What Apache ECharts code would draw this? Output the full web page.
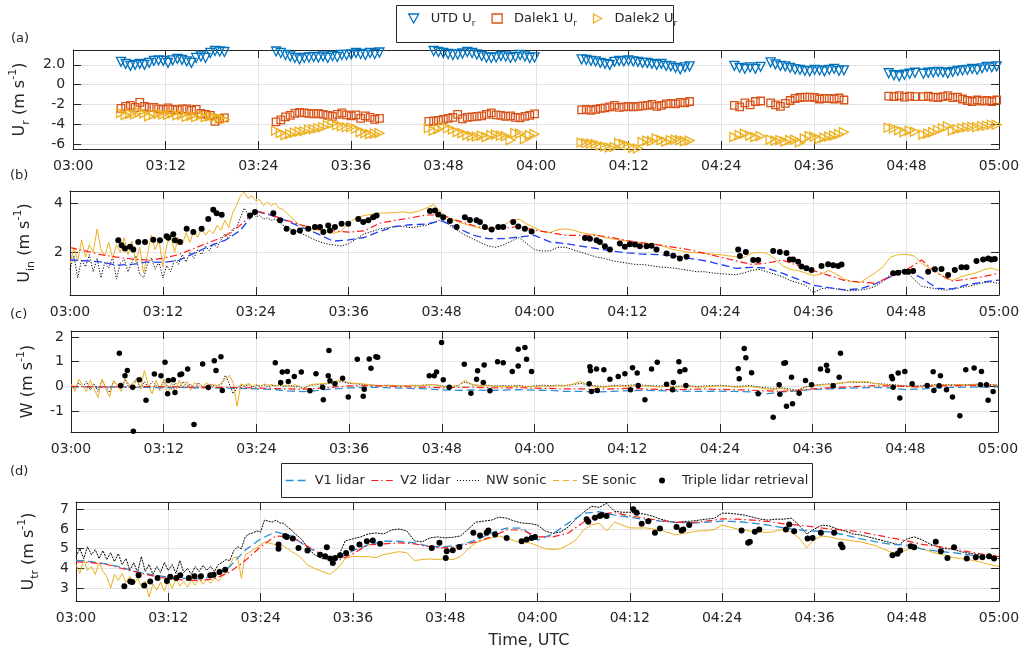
<!DOCTYPE html>
<html><head><meta charset="utf-8">
<script src="https://cdn.jsdelivr.net/npm/echarts@6/dist/echarts.min.js"></script>
<style>html,body{margin:0;padding:0;background:#fff}#c{width:1025px;height:654px}</style>
</head><body><div id="c"></div>
<script>
// ---------- Panel (a): radial velocities, scan clusters (minutes after 03:00) ----------
const aScans = [[6.2,19.6],[26.3,39.7],[46.1,59.8],[65.9,79.9],[85.7,89.1],[90.4,99.9],[105.7,109.1],[110.2,119.7]];
const aUtd = [
 [2.3,2.1,1.9,2.0,2.1,2.0,2.2,2.4,2.45,2.4,2.2,2.45,2.6,2.5,2.35,2.2,2.7,2.85,2.7,3.2,3.4,3.35,3.3],
 [3.35,3.2,3.0,2.85,2.7,2.55,2.7,2.75,2.8,2.75,2.85,2.7,2.9,2.8,3.0,3.0,3.05,3.2,3.1,3.0,3.2,3.1,3.25],
 [3.55,3.4,3.3,3.2,3.1,3.0,3.05,3.15,3.3,3.2,3.05,2.9,2.75,2.7,2.75,2.9,2.85,2.7,2.8,3.0,2.85,2.7,2.75],
 [2.55,2.5,2.4,2.35,2.2,2.1,2.0,2.3,2.4,2.35,2.45,2.35,2.3,2.2,2.2,2.1,2.0,2.1,1.9,1.85,1.7,1.55,1.75,1.85],
 [1.9,1.7,1.6,1.75,1.6,1.8],
 [2.25,2.05,1.9,1.85,1.7,1.55,1.5,1.4,1.35,1.5,1.45,1.35,1.5,1.6,1.4,1.45],
 [1.15,0.95,0.85,1.0,1.1,1.2],
 [1.1,1.2,1.25,1.3,1.25,1.15,1.3,1.4,1.45,1.5,1.6,1.5,1.65,1.8,1.75,1.85]
];
const aDalek1 = [
 [-2.4,-2.2,-2.1,-2.3,-1.8,-2.2,-2.3,-2.3,-2.45,-2.5,-2.35,-2.5,-2.55,-2.45,-2.45,-2.6,-2.5,-2.9,-3.0,-3.1,-3.7,-3.45,-3.35],
 [-3.75,-3.55,-3.25,-3.1,-2.9,-2.8,-2.85,-2.9,-2.95,-2.9,-3.0,-3.1,-3.2,-3.0,-2.85,-3.05,-3.15,-3.05,-3.4,-3.15,-3.3,-3.5,-3.4],
 [-3.7,-3.65,-3.6,-3.5,-3.4,-3.3,-3.0,-3.45,-3.3,-3.25,-3.2,-3.15,-3.0,-2.85,-3.05,-3.1,-3.2,-3.15,-3.3,-3.35,-3.2,-3.1,-2.95],
 [-2.55,-2.5,-2.6,-2.5,-2.4,-2.35,-2.25,-2.1,-2.3,-2.25,-2.2,-2.25,-2.2,-2.15,-2.1,-2.0,-2.2,-2.1,-1.95,-1.9,-1.95,-1.8,-1.85,-1.7],
 [-2.1,-2.25,-1.85,-2.05,-1.7,-1.65],
 [-1.85,-2.05,-2.2,-1.9,-1.6,-1.4,-1.3,-1.25,-1.25,-1.3,-1.45,-1.4,-1.4,-1.45,-1.35,-1.55],
 [-1.15,-1.2,-1.1,-1.25,-1.15,-1.2],
 [-1.2,-1.15,-1.25,-1.3,-1.2,-1.1,-1.3,-1.25,-1.45,-1.6,-1.7,-1.55,-1.65,-1.6,-1.7,-1.55]
];
const aDalek2 = [
 [-2.85,-3.05,-2.95,-3.0,-2.8,-2.9,-3.2,-3.0,-2.95,-3.0,-3.05,-2.9,-3.1,-3.05,-3.25,-3.15,-3.3,-3.1,-3.3,-3.2,-3.3,-3.4,-3.5],
 [-4.65,-4.9,-5.1,-5.0,-4.85,-4.75,-4.7,-4.55,-4.5,-4.4,-4.3,-4.1,-3.95,-4.1,-4.2,-4.3,-4.3,-4.45,-4.8,-4.9,-5.0,-4.95,-4.9],
 [-4.4,-4.65,-4.5,-4.2,-4.4,-4.55,-4.8,-4.9,-5.1,-5.2,-5.25,-5.15,-5.3,-5.1,-5.05,-5.15,-5.2,-5.6,-4.9,-4.95,-5.5,-5.1,-5.0],
 [-5.85,-5.9,-5.95,-6.0,-6.15,-6.25,-6.35,-6.3,-5.9,-6.0,-6.15,-6.4,-6.45,-5.8,-5.65,-5.7,-5.45,-5.6,-5.75,-5.6,-5.55,-5.6,-5.7,-5.65],
 [-5.3,-5.1,-4.95,-5.15,-5.3,-5.2],
 [-5.55,-5.65,-5.6,-5.75,-5.6,-5.55,-5.85,-5.45,-5.2,-5.25,-5.5,-5.35,-5.25,-5.15,-5.0,-4.8],
 [-4.35,-4.4,-4.6,-4.8,-4.65,-4.75],
 [-5.05,-4.95,-4.8,-4.6,-4.4,-4.2,-4.65,-4.5,-4.4,-4.3,-4.25,-4.3,-4.2,-4.15,-4.05,-4.05]
];

// ---------- tick labels ----------
const aTicks = [-6,-4,-2,0,2];
const aTickLabels = ['-6','-4','-2','0','2.0'];
const bTicks = [2,4];
const cTicks = [-1,0,1,2];
const dTicks = [3,4,5,6,7];

// ---------- lidar lines (every 2 min from 03:00) ----------
const bV1 = [1.68,1.65,1.6,1.47,1.5,1.6,1.58,1.66,1.95,2.25,2.48,2.89,3.68,3.5,3.28,3.0,2.75,2.45,2.5,2.6,2.85,3.05,3.12,3.15,3.28,3.0,2.7,2.55,2.55,2.62,2.69,2.42,2.35,2.25,2.15,2.05,1.97,1.92,1.9,1.85,1.75,1.65,1.5,1.34,1.38,1.35,1.14,0.9,0.65,0.55,0.46,0.5,0.7,1.0,1.27,0.95,0.52,0.5,0.68,0.78,0.86];
const bV2 = [2.19,2.05,1.9,1.8,1.72,1.68,1.75,1.9,2.15,2.4,2.65,3.1,3.7,3.52,3.3,3.1,2.95,2.88,2.82,2.87,3.18,3.3,3.4,3.52,3.52,3.3,3.1,2.95,2.97,3.05,2.9,2.8,2.69,2.69,2.69,2.6,2.47,2.38,2.3,2.2,2.1,1.95,1.8,1.65,1.5,1.55,1.68,1.45,1.25,1.05,0.85,0.78,0.73,1.0,1.27,1.68,1.14,0.82,0.9,1.0,1.14];
const cV1 = [-0.02,-0.02,-0.03,-0.02,-0.03,-0.04,-0.05,-0.04,-0.05,-0.06,-0.07,-0.08,-0.1,-0.12,-0.18,-0.21,-0.16,-0.1,-0.06,-0.04,-0.04,-0.06,-0.08,-0.1,-0.14,-0.16,-0.14,-0.16,-0.15,-0.13,-0.15,-0.16,-0.2,-0.2,-0.22,-0.2,-0.17,-0.16,-0.17,-0.18,-0.2,-0.2,-0.19,-0.2,-0.22,-0.3,-0.22,-0.18,-0.12,-0.1,-0.08,-0.06,-0.04,-0.06,-0.13,-0.1,-0.06,-0.04,-0.03,-0.03,-0.02];
const cV2 = [0,-0.01,-0.02,-0.02,-0.01,0,-0.02,-0.02,-0.03,-0.03,-0.04,-0.05,-0.06,-0.08,-0.1,-0.11,-0.08,-0.03,0.02,0.03,0.02,0,-0.02,-0.03,-0.05,-0.04,-0.03,-0.05,-0.06,-0.05,-0.07,-0.08,-0.1,-0.1,-0.12,-0.1,-0.08,-0.1,-0.12,-0.13,-0.12,-0.1,-0.12,-0.13,-0.15,-0.18,-0.2,-0.16,-0.1,-0.06,-0.03,0,0.03,0.02,0,-0.02,0.02,0.03,0.04,0.05,0.04];
const dV1 = [4.41,4.35,4.22,4.05,3.82,3.68,3.56,3.5,3.48,3.6,4.1,4.93,5.5,5.86,5.65,5.1,4.67,4.45,4.9,5.2,5.38,5.38,5.3,5.1,5.1,5.2,5.44,5.8,6.05,6.05,5.44,5.75,6.3,6.8,6.88,6.7,6.6,6.48,6.4,6.35,6.3,6.35,6.4,6.38,6.3,6.2,6.05,5.95,5.9,5.85,5.7,5.5,5.35,5.22,5.18,4.98,4.88,4.8,4.7,4.58,4.45];
const dV2 = [4.33,4.3,4.2,4.0,3.8,3.62,3.48,3.42,3.39,3.48,3.82,4.4,5.1,5.65,5.6,5.15,4.7,4.38,4.75,5.2,5.25,5.3,5.25,5.1,5.04,5.15,5.35,5.6,5.95,5.95,5.6,5.6,5.8,6.35,6.75,6.83,6.66,6.55,6.42,6.35,6.32,6.4,6.52,6.5,6.45,6.38,6.26,6.2,6.1,6.0,5.95,5.85,5.7,5.55,5.4,5.22,5.12,5.0,4.85,4.72,4.6];

// ---------- sonic lines (every 0.5 min for 03:00-03:30, then every 1 min) ----------
const bNW = [1.3,1.85,0.95,1.7,1.4,1.9,1.2,1.75,0.95,1.6,1.35,1.8,0.9,1.55,1.7,1.2,1.6,1.85,1.1,0.95,1.5,1.75,1.3,1.6,0.95,1.45,1.2,1.7,1.5,1.9,1.6,2.0,1.75,2.1,1.9,2.25,2.05,2.35,2.2,2.5,2.75,2.55,2.95,3.0,3.4,3.8,3.55,3.6,3.45,3.5,3.35,3.4,3.3,3.35,3.25,3.1,3.05,2.95,2.9,2.8,2.75,
 2.6,2.45,2.35,2.3,2.25,2.35,2.55,2.75,2.85,2.95,3.0,3.05,3.05,3.0,3.05,3.1,3.2,3.35,3.1,2.9,2.7,2.55,2.4,2.25,2.2,2.3,2.45,2.6,2.35,2.1,2.05,2.05,2.2,2.2,2.1,2.0,1.9,1.8,1.75,1.65,1.6,1.55,1.5,1.5,1.45,1.4,1.38,1.35,1.3,1.25,1.2,1.2,1.15,1.12,1.1,1.08,1.15,1.25,1.3,1.2,1.1,1.0,0.85,0.75,0.65,0.35,0.5,0.55,0.5,0.45,0.42,0.45,0.5,0.6,0.8,1.1,1.25,1.25,0.9,0.6,0.55,0.5,0.45,0.48,0.55,0.6,0.68,0.75,0.78,0.72];
const bSE = [1.5,2.2,1.65,2.5,1.8,2.3,2.0,2.95,2.1,1.85,2.4,1.75,2.3,2.0,2.6,1.9,2.45,1.6,2.2,1.15,1.9,2.7,2.1,2.5,1.4,2.3,2.7,2.0,2.6,2.3,2.8,2.4,2.9,2.6,3.0,2.7,2.9,2.75,3.1,2.9,3.3,3.0,3.6,3.9,4.3,4.45,4.2,4.3,4.1,4.15,3.9,4.05,3.9,4.0,3.8,3.75,3.6,3.45,3.3,3.15,3.05,
 2.95,2.9,2.82,2.78,2.85,3.2,3.4,3.5,3.55,3.6,3.6,3.62,3.65,3.6,3.68,3.8,3.95,3.6,3.4,3.25,3.15,3.05,2.98,2.95,3.0,3.1,3.3,3.35,3.15,3.0,2.85,2.8,2.92,2.95,2.9,2.8,2.75,2.7,2.6,2.55,2.5,2.45,2.4,2.38,2.35,2.3,2.2,2.1,2.05,2.0,1.98,1.95,1.92,1.9,1.85,1.82,1.78,1.95,2.0,1.95,1.75,1.45,1.3,1.25,1.15,1.05,1.1,1.25,1.1,0.9,0.8,0.75,0.95,1.15,1.4,1.8,1.9,1.92,1.85,1.55,1.35,1.2,0.95,0.85,0.98,1.08,1.15,1.28,1.35,1.25];
const cNW = [0.05,-0.1,0.15,-0.05,0.2,-0.15,0.1,-0.2,0.25,0,-0.25,0.2,0.05,-0.1,0.3,-0.05,0.15,0.3,-0.1,0.2,-0.05,0.2,0.05,-0.15,0.25,0,-0.1,0.15,-0.05,0.2,0,0.1,-0.1,0.15,0,-0.05,0.1,0.02,0.05,0.1,0.45,0.1,-0.3,-0.05,0.05,0,0.08,-0.02,0.05,0.02,0.06,-0.02,0.04,0.03,0.05,0,0.02,0.04,-0.03,0.02,-0.08,
 0.05,0.08,0.1,0.15,0.2,0.12,0.1,0.08,0.05,0.04,0.05,0.04,0.03,0.05,0.04,0.06,0.08,0.02,0.0,0.03,0.18,0.06,0.04,0.05,0.02,0.03,0.02,0.04,0.0,0.02,0.05,0.03,0.05,0.04,0.08,0.12,0.06,0.02,0.0,0.03,0.05,0.04,0.06,0.05,0.03,0.02,0.03,0.0,0.02,0.03,0.0,0.02,0.03,0.05,0.02,0.0,0.02,0.03,-0.02,-0.06,-0.08,-0.05,-0.1,-0.15,-0.02,0.04,0.08,0.1,0.12,0.15,0.18,0.16,0.17,0.12,0.1,0.08,0.05,0.03,0.02,0.03,0.05,0.07,0.08,0.07,0.08,0.07,0.09,0.08,0.07,0.06];
const cSE = [0.1,-0.2,0.3,0.05,-0.2,0.25,-0.1,-0.45,0.3,-0.1,-0.42,0.25,0.05,-0.2,0.3,0.1,-0.15,0.35,-0.1,0.65,0.05,-0.3,0.25,-0.1,0.3,-0.35,0.15,-0.25,0.25,-0.05,0.2,-0.15,0.15,0.05,-0.1,0.15,0.02,0.1,0.0,0.15,0.3,0.45,0.15,-0.8,0.1,0.05,0.12,0.0,0.08,-0.05,0.1,0.05,0.08,0.0,0.1,0.03,0.05,-0.02,0.08,0.0,-0.12,
 0.08,0.1,0.12,0.2,0.27,0.15,0.12,0.1,0.06,0.03,0.04,0.03,0.02,0.04,0.03,0.05,0.08,0.0,-0.02,0.02,0.24,0.08,0.02,0.03,0.0,0.01,0.0,0.02,-0.02,0.0,0.02,0.0,0.03,0.02,0.1,0.2,0.05,-0.02,-0.03,0.0,0.02,0.0,0.03,0.02,0.0,-0.02,0.0,-0.03,-0.02,0.0,-0.03,-0.02,0.0,0.02,0.0,-0.03,-0.02,0.0,-0.05,-0.1,-0.12,-0.08,-0.15,-0.2,-0.05,0.02,0.05,0.08,0.1,0.15,0.2,0.18,0.2,0.12,0.08,0.05,0.02,0.0,-0.02,0.0,0.02,0.05,0.06,0.05,0.07,0.05,0.08,0.06,0.05,0.04];
const dNW = [4.6,5.0,4.5,5.1,4.7,4.95,4.5,4.9,4.45,4.8,4.35,4.75,4.2,4.5,3.9,4.3,3.8,4.6,3.85,4.2,3.7,4.1,3.8,4.3,3.9,4.2,3.75,4.4,3.8,4.0,3.7,4.1,3.85,4.15,3.9,4.1,3.85,4.2,4.3,4.45,4.4,4.9,5.1,5.0,5.6,5.75,5.8,5.9,5.85,6.45,6.4,6.35,6.45,6.3,6.3,6.1,5.95,5.75,5.6,5.4,5.1,
 4.7,4.5,4.45,4.5,5.4,5.5,5.6,5.75,5.8,5.75,5.95,6.0,5.9,5.4,5.35,5.55,5.6,5.55,5.58,5.65,6.0,6.35,6.4,6.45,6.6,6.55,6.4,6.3,6.28,6.2,5.9,5.78,5.85,6.1,6.5,6.85,7.15,7.1,7.3,6.9,6.85,6.85,6.8,6.75,6.65,6.5,6.4,6.32,6.38,6.4,6.45,6.5,6.55,6.8,6.8,6.75,6.7,6.6,6.5,6.45,6.5,6.5,6.55,6.2,5.75,6.0,6.2,6.15,6.0,5.9,5.75,5.7,5.6,5.5,5.4,5.3,5.2,5.5,5.6,5.45,5.25,5.1,5.0,4.98,4.85,4.78,4.72,4.65,4.55,4.5];
const dSE = [4.2,3.75,4.45,3.9,4.1,3.7,4.3,3.85,3.6,3.0,3.7,3.4,3.75,3.3,3.6,3.2,3.5,3.1,3.35,2.55,3.2,2.9,3.3,2.85,3.4,3.0,3.45,3.1,3.35,3.05,3.4,3.15,3.5,3.2,3.45,3.25,3.55,3.35,3.6,3.75,4.2,4.55,4.6,3.5,4.7,4.8,4.95,5.05,5.2,5.35,5.3,5.25,5.2,5.15,5.13,5.0,4.87,4.75,4.62,4.45,4.2,
 4.0,3.85,3.7,4.0,4.5,4.62,4.6,4.6,4.55,4.7,4.78,4.85,4.8,4.4,4.45,4.48,4.45,4.5,4.45,4.6,5.0,5.3,5.45,5.55,5.64,5.55,5.4,5.3,5.3,5.15,5.0,4.96,5.0,5.2,5.45,5.95,6.2,6.3,5.9,6.35,6.2,6.06,6.05,6.06,6.0,5.95,5.82,5.7,5.78,5.85,5.9,5.92,5.98,6.2,6.1,6.0,5.95,5.85,5.85,5.82,5.9,5.98,5.85,5.55,5.05,5.47,5.64,5.6,5.5,5.45,5.4,5.35,5.25,5.15,4.98,4.82,4.78,4.95,5.12,5.0,4.87,4.75,4.68,4.55,4.5,4.45,4.38,4.28,4.18,4.1];

// ---------- triple lidar retrieval [minutes after 03:00, value] ----------
const bDots = [[6.24,2.49],[6.67,2.28],[7.10,2.15],[7.75,2.22],[8.18,2.11],[8.82,2.42],[9.69,2.42],[10.76,2.51],[11.62,2.49],[12.48,2.65],[12.70,2.59],[13.34,2.73],[13.56,2.49],[14.21,2.42],[15.07,2.96],[15.93,2.82],[17.00,2.96],[17.86,3.36],[18.51,3.73],[18.94,3.59],[19.59,3.53],[23.25,3.50],[23.89,3.64],[26.26,3.59],[27.12,3.30],[27.98,2.96],[28.84,2.82],[29.70,2.89],[30.78,2.96],[31.64,3.03],[32.29,3.03],[32.72,2.82],[33.36,3.09],[33.58,2.89],[34.22,3.03],[35.08,3.16],[35.94,3.16],[37.24,3.36],[37.88,3.23],[38.53,3.30],[39.17,3.43],[39.60,3.50],[46.49,3.68],[47.14,3.70],[47.57,3.54],[48.21,3.43],[49.07,3.27],[49.94,3.03],[51.01,3.43],[51.66,3.32],[52.52,3.30],[52.95,3.23],[53.59,3.03],[54.46,2.93],[55.32,3.03],[55.96,3.03],[57.25,3.23],[57.90,3.05],[58.76,2.96],[59.62,2.85],[66.52,2.58],[67.16,2.55],[68.02,2.49],[68.45,2.42],[69.09,2.24],[69.74,2.11],[71.03,2.35],[71.67,2.22],[72.32,2.32],[72.97,2.31],[73.61,2.24],[74.47,2.24],[75.12,2.26],[75.76,2.11],[77.06,1.95],[77.92,1.85],[78.78,1.74],[79.64,1.81],[86.31,2.11],[86.53,1.84],[87.30,2.01],[88.25,1.68],[88.89,1.68],[90.83,2.05],[91.69,2.01],[92.55,1.97],[92.98,1.70],[93.41,1.70],[94.06,1.61],[94.49,1.41],[95.13,1.34],[95.78,1.27],[97.07,1.43],[97.93,1.51],[98.58,1.47],[99.22,1.43],[99.66,1.50],[106.33,1.14],[106.97,1.16],[107.83,1.20],[108.26,1.20],[108.91,1.23],[110.85,1.20],[111.71,1.30],[112.57,1.31],[113.43,1.07],[114.29,1.27],[115.15,1.38],[115.80,1.38],[117.09,1.64],[117.95,1.70],[118.60,1.74],[119.03,1.70],[119.46,1.72]];
const cDots = [[6.26,1.34],[6.43,0.04],[6.99,0.43],[7.29,0.64],[7.98,-0.03],[8.07,-1.81],[8.84,0.27],[9.71,-0.56],[10.79,0.50],[11.65,0.43],[12.17,0.98],[12.51,-0.29],[12.60,0.24],[13.24,0.27],[13.46,-0.24],[14.11,0.47],[14.32,0.50],[15.10,0.71],[15.92,-1.54],[17.04,0.91],[17.77,-0.04],[18.55,1.04],[18.77,0.64],[19.41,1.20],[19.59,-0.16],[26.27,2.25],[26.44,0.96],[27.14,0.16],[27.35,0.58],[28.00,0.60],[28.13,0.20],[28.90,0.40],[29.81,0.58],[30.93,-0.17],[31.71,0.51],[32.57,-0.03],[32.66,-0.54],[33.30,0.43],[33.39,1.45],[33.52,0.23],[34.17,0.11],[35.16,0.33],[35.89,-0.43],[37.06,1.10],[37.83,-0.40],[37.96,-0.11],[38.61,1.11],[38.83,0.74],[39.47,1.20],[39.69,1.18],[46.38,0.43],[47.02,0.43],[47.32,0.58],[47.97,1.78],[48.19,0.27],[48.96,-0.03],[50.91,0.90],[51.77,-0.27],[52.50,0.29],[52.63,0.63],[53.37,0.16],[53.49,0.87],[54.23,-0.17],[55.22,1.00],[55.95,0.96],[57.12,0.60],[57.89,1.50],[57.89,0.83],[58.76,1.57],[58.97,1.10],[59.62,0.60],[67.08,0.11],[67.17,0.80],[67.25,0.63],[67.38,-0.20],[68.03,0.70],[68.12,-0.16],[68.98,0.67],[69.76,0.29],[70.84,0.40],[71.70,0.51],[72.43,-0.13],[72.69,0.76],[73.29,0.54],[73.42,0.04],[74.29,-0.54],[75.15,0.71],[75.89,0.98],[77.09,0.09],[77.87,-0.13],[77.96,0.16],[78.69,1.00],[78.82,0.60],[79.47,0.67],[79.60,0.04],[86.37,0.72],[86.50,0.31],[87.15,1.53],[87.36,1.16],[88.10,0.55],[88.96,-0.29],[90.90,-1.24],[91.67,0.07],[91.76,-0.32],[92.28,0.94],[92.49,0.96],[92.62,-0.80],[93.27,0.37],[93.40,-0.70],[94.26,-0.27],[95.08,0.24],[95.86,0.07],[97.02,0.70],[97.80,0.86],[97.93,0.64],[98.66,0.03],[99.44,0.37],[99.61,1.34],[106.21,0.40],[106.34,0.31],[106.43,-0.03],[107.08,0.54],[107.29,-0.47],[107.94,0.60],[108.89,0.11],[110.83,0.04],[111.61,0.59],[111.70,-0.16],[112.38,0.03],[112.55,0.43],[113.33,-0.13],[114.11,-0.43],[115.06,-1.18],[115.83,0.67],[116.91,0.75],[117.73,0.07],[117.86,0.60],[118.51,0.07],[118.72,-0.56],[119.37,-0.20]];
const dDots = [[6.28,3.10],[7.06,3.34],[7.31,3.31],[8.14,3.65],[8.87,3.14],[9.65,3.34],[10.61,3.51],[11.82,3.37],[12.25,3.58],[13.03,3.51],[13.55,3.65],[14.68,3.51],[15.41,3.61],[16.24,3.61],[17.45,3.65],[17.89,3.68],[18.66,3.82],[19.40,3.94],[26.33,5.21],[26.33,5.00],[27.19,5.64],[27.41,5.59],[28.19,5.52],[28.93,5.04],[30.10,4.91],[31.74,4.70],[32.40,4.62],[32.61,5.08],[33.04,4.50],[33.39,4.28],[33.69,4.53],[34.34,4.67],[35.12,4.79],[35.86,5.04],[36.85,5.21],[37.81,5.38],[38.59,5.42],[39.54,5.25],[46.25,5.04],[47.25,5.30],[48.07,4.53],[48.20,4.87],[48.98,4.92],[49.84,5.09],[51.66,5.81],[52.53,5.67],[53.39,5.81],[53.61,5.93],[54.48,5.72],[55.99,5.55],[57.94,5.38],[58.59,5.47],[59.24,5.55],[59.68,5.59],[66.39,6.49],[66.61,6.37],[67.47,6.57],[68.12,6.66],[68.34,6.71],[68.99,6.66],[72.45,7.00],[72.89,6.83],[73.54,6.27],[74.40,6.40],[75.27,5.81],[75.92,6.03],[78.08,6.10],[78.73,5.93],[78.95,5.98],[79.73,6.20],[86.53,5.93],[87.39,5.30],[87.61,5.35],[88.26,5.86],[88.83,5.98],[92.29,5.98],[92.72,6.23],[93.37,5.89],[95.11,5.52],[95.76,5.55],[96.84,5.81],[98.57,5.81],[99.44,5.21],[99.65,5.08],[106.15,4.67],[106.80,4.74],[107.15,4.91],[108.53,5.13],[108.97,5.08],[111.78,5.35],[112.43,4.87],[113.30,4.53],[114.16,5.08],[115.81,4.50],[116.98,4.57],[117.84,4.57],[118.71,4.62],[119.36,4.50]];

// ---------- build ----------
const FONT = 'DejaVu Sans', TXT = '#262626', GRIDC = '#e2e2e2';
const sonicTimes = []; for (let i = 0; i <= 60; i++) sonicTimes.push(i * 0.5); for (let m = 31; m <= 120; m++) sonicTimes.push(m);
const lidarTimes = []; for (let i = 0; i <= 60; i++) lidarTimes.push(i * 2);
const pairs = (ts, vs) => vs.map((v, i) => [ts[i], v]);
function clusterPairs(clusters) {
  const out = [];
  clusters.forEach((vals, k) => {
    const [s, e] = aScans[k]; const n = vals.length;
    vals.forEach((v, j) => out.push([s + (e - s) * j / (n - 1), v]));
  });
  return out;
}
const fmtTime = v => { const h = 3 + Math.floor(v / 60), m = Math.round(v % 60); return String(h).padStart(2, '0') + ':' + String(m).padStart(2, '0'); };

const grids = [
  {left: 69, top: 50, width: 930, height: 99},
  {left: 70, top: 191, width: 929, height: 104},
  {left: 71, top: 331, width: 927, height: 101},
  {left: 76, top: 502, width: 923, height: 99}
];
const yRanges = [[-6.5, 3.5], [0.25, 4.5], [-1.84, 2.24], [2.35, 7.37]];
const yTicks = [aTicks, bTicks, cTicks, dTicks];
const nameRich = {
  m: {fontSize: 16, fontFamily: FONT, color: TXT, lineHeight: 24},
  sub: {fontSize: 11, fontFamily: FONT, color: TXT, lineHeight: 12, verticalAlign: 'bottom'},
  sup: {fontSize: 11, fontFamily: FONT, color: TXT, lineHeight: 12, verticalAlign: 'top'}
};
const yNames = ['{m|U}{sub|r}{m| (m s}{sup|-1}{m|)}', '{m|U}{sub|in}{m| (m s}{sup|-1}{m|)}', '{m|W (m s}{sup|-1}{m|)}', '{m|U}{sub|tr}{m| (m s}{sup|-1}{m|)}'];
const yNameGaps = [32, 33, 31, 35];
const labelMargins = [8, 7, 7, 7];

const xAxis = [], yAxis = [];
const axLine = {show: true, onZero: false, lineStyle: {color: TXT, width: 1}};
for (let p = 0; p < 4; p++) {
  const bottom = {type: 'value', gridIndex: p, min: 0, max: 120, interval: 12, position: 'bottom',
    axisLine: axLine, axisTick: {inside: true, length: 8, lineStyle: {color: TXT}},
    axisLabel: {color: TXT, fontSize: 14, fontFamily: FONT, margin: 10, formatter: fmtTime, showMinLabel: true, showMaxLabel: true},
    splitLine: {show: true, lineStyle: {color: GRIDC, width: 1}}};
  if (p === 3) Object.assign(bottom, {name: 'Time, UTC', nameLocation: 'middle', nameGap: 32,
    nameTextStyle: {fontSize: 16, fontFamily: FONT, color: TXT, padding: [0, 17, 0, 0]}});
  xAxis.push(bottom);
  xAxis.push({type: 'value', gridIndex: p, min: 0, max: 120, interval: 12, position: 'top',
    axisLine: axLine, axisTick: {inside: true, length: 8, lineStyle: {color: TXT}},
    axisLabel: {show: false}, splitLine: {show: false}});
  const ticks = yTicks[p];
  const fmt = p === 0 ? (v => aTickLabels[aTicks.indexOf(v)] ?? String(v)) : (v => String(v));
  yAxis.push({type: 'value', gridIndex: p, min: yRanges[p][0], max: yRanges[p][1], position: 'left',
    axisLine: axLine, axisTick: {inside: true, length: 8, customValues: ticks, lineStyle: {color: TXT}},
    axisLabel: {customValues: ticks, formatter: fmt, color: TXT, fontSize: 14, fontFamily: FONT, margin: labelMargins[p]},
    splitLine: {show: true, lineStyle: {color: GRIDC, width: 1}},
    name: yNames[p], nameLocation: 'middle', nameRotate: 90, nameGap: yNameGaps[p],
    nameTextStyle: {color: TXT, fontFamily: FONT, fontSize: 16, rich: nameRich}});
  yAxis.push({type: 'value', gridIndex: p, min: yRanges[p][0], max: yRanges[p][1], position: 'right',
    axisLine: axLine, axisTick: {inside: true, length: 8, customValues: ticks, lineStyle: {color: TXT}},
    axisLabel: {show: false}, splitLine: {show: false}});
}

const series = [];
const hollow = (sym, rot, col) => ({type: 'scatter', xAxisIndex: 0, yAxisIndex: 0, symbol: sym, symbolRotate: rot, symbolSize: 9,
  itemStyle: {color: 'rgba(0,0,0,0)', borderColor: col, borderWidth: 1.3, opacity: 1}, silent: true, z: 3});
series.push(Object.assign(hollow('triangle', 180, '#0072BD'), {name: 'UTD', data: clusterPairs(aUtd)}));
series.push(Object.assign(hollow('rect', 0, '#D95319'), {name: 'Dalek1', data: clusterPairs(aDalek1), symbolSize: 7.5}));
series.push(Object.assign(hollow('triangle', -90, '#EDB120'), {name: 'Dalek2', data: clusterPairs(aDalek2)}));

const panelData = [
  null,
  {nw: bNW, se: bSE, v1: bV1, v2: bV2, dots: bDots, v1c: '#2140f5', nwType: [1.2, 1.6], ds: 6},
  {nw: cNW, se: cSE, v1: cV1, v2: cV2, dots: cDots, v1c: '#2a8fd6', nwType: [1.2, 1.6], ds: 5.5},
  {nw: dNW, se: dSE, v1: dV1, v2: dV2, dots: dDots, v1c: '#2a8fd6', nwType: [2, 1], ds: 6}
];
const V2C = '#ff1a1a', SEC = '#EDB120';
for (let p = 1; p < 4; p++) {
  const d = panelData[p], xi = 2 * p, yi = 2 * p;
  const base = {type: 'line', xAxisIndex: xi, yAxisIndex: yi, symbol: 'none', silent: true};
  series.push(Object.assign({}, base, {name: 'NW sonic', data: pairs(sonicTimes, d.nw), z: 2,
    itemStyle: {color: '#000'}, lineStyle: {color: '#000', width: 1, type: d.nwType}}));
  series.push(Object.assign({}, base, {name: 'SE sonic', data: pairs(sonicTimes, d.se), z: 2,
    itemStyle: {color: SEC}, lineStyle: {color: SEC, width: 1}}));
  series.push(Object.assign({}, base, {name: 'V1 lidar', data: pairs(lidarTimes, d.v1), z: 3,
    itemStyle: {color: d.v1c}, lineStyle: {color: d.v1c, width: 1.3, type: [8, 4]}}));
  series.push(Object.assign({}, base, {name: 'V2 lidar', data: pairs(lidarTimes, d.v2), z: 3,
    itemStyle: {color: V2C}, lineStyle: {color: V2C, width: 1.2, type: [7, 3, 1.5, 3]}}));
  series.push({type: 'scatter', name: 'Triple lidar retrieval', xAxisIndex: xi, yAxisIndex: yi, data: d.dots,
    symbol: 'circle', symbolSize: d.ds, itemStyle: {color: '#000', opacity: 1}, silent: true, z: 4});
}

const legRich = {
  m: {fontSize: 13, fontFamily: FONT, color: TXT, lineHeight: 20},
  sub: {fontSize: 9, fontFamily: FONT, color: TXT, lineHeight: 10, verticalAlign: 'bottom'}
};
const noSym = {color: 'rgba(0,0,0,0)', borderColor: 'rgba(0,0,0,0)', borderWidth: 0, opacity: 0};
const legend = [
  {data: [
      {name: 'UTD', icon: 'path://M0,0L10,0L5,9Z', itemStyle: {color: 'rgba(0,0,0,0)', borderColor: '#0072BD', borderWidth: 1.3}},
      {name: 'Dalek1', icon: 'rect', itemStyle: {color: 'rgba(0,0,0,0)', borderColor: '#D95319', borderWidth: 1.3}},
      {name: 'Dalek2', icon: 'path://M0,0L9,5L0,10Z', itemStyle: {color: 'rgba(0,0,0,0)', borderColor: '#EDB120', borderWidth: 1.3}}],
    left: 408, top: 12, itemWidth: 10, itemHeight: 9, itemGap: 16, padding: 0,
    selectedMode: false, formatter: n => `{m|${n} U}{sub|r}`,
    textStyle: {color: TXT, fontFamily: FONT, fontSize: 13, padding: [0, 0, 0, 7], rich: legRich}},
  {data: [
      {name: 'V1 lidar', itemStyle: noSym, lineStyle: {color: '#2a8fd6', width: 1.3, type: [8, 4]}},
      {name: 'V2 lidar', itemStyle: noSym, lineStyle: {color: V2C, width: 1.2, type: [7, 3, 1.5, 3]}},
      {name: 'NW sonic', itemStyle: noSym, lineStyle: {color: '#000', width: 1, type: [1, 2]}},
      {name: 'SE sonic', itemStyle: noSym, lineStyle: {color: SEC, width: 1.2, type: [6, 4]}}],
    left: 285, top: 474, itemWidth: 24, itemHeight: 12, itemGap: 6, padding: 0, selectedMode: false,
    textStyle: {color: TXT, fontFamily: FONT, fontSize: 13}},
  {data: ['Triple lidar retrieval'], left: 659, top: 474, itemWidth: 6, itemHeight: 6, padding: 0, selectedMode: false,
    textStyle: {color: TXT, fontFamily: FONT, fontSize: 13, padding: [0, 0, 0, 12]}}
];

const graphic = [
  {type: 'rect', shape: {x: 396.5, y: 5.5, width: 277, height: 37}, style: {fill: 'none', stroke: TXT, lineWidth: 1}, silent: true},
  {type: 'rect', shape: {x: 281.5, y: 463.5, width: 531, height: 34}, style: {fill: 'none', stroke: TXT, lineWidth: 1}, silent: true},
  {type: 'text', left: 11, top: 32, style: {text: '(a)', fontSize: 13, fontFamily: FONT, fill: TXT}},
  {type: 'text', left: 10, top: 169, style: {text: '(b)', fontSize: 13, fontFamily: FONT, fill: TXT}},
  {type: 'text', left: 10, top: 308, style: {text: '(c)', fontSize: 13, fontFamily: FONT, fill: TXT}},
  {type: 'text', left: 10, top: 465, style: {text: '(d)', fontSize: 13, fontFamily: FONT, fill: TXT}}
];

const chart = echarts.init(document.getElementById('c'), null, {renderer: 'canvas'});
chart.setOption({animation: false, backgroundColor: '#fff', grid: grids, xAxis, yAxis, series, legend, graphic});
</script></body></html>
